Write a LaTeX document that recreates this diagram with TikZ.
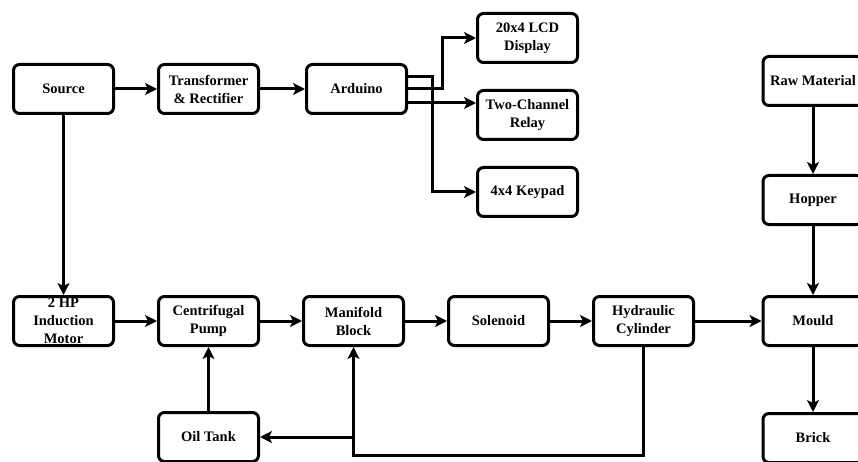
\documentclass[tikz,border=0pt]{standalone}
\usepackage{fontspec}
\setmainfont{Liberation Serif}
\usetikzlibrary{arrows.meta}
\begin{document}
\begin{tikzpicture}[x=1pt,y=-1pt,
  blk/.style={draw=black, line width=3pt, rounded corners=6pt, minimum width=100pt, minimum height=49pt,
    align=center, inner sep=0pt, font=\fontsize{14.5}{18}\selectfont\bfseries},
  arr/.style={line width=3pt, -{Stealth[length=12pt,width=12pt,inset=3pt]}},
  ln/.style={line width=3pt}]
\useasboundingbox (0,0) rectangle (858,462);
\clip (0,0) rectangle (858,462);
\fill[white] (0,0) rectangle (858,462);
% top row
\node[blk] (src) at (63.5,89) {Source};
\node[blk] (trf) at (208.5,89) {Transformer\\\& Rectifier};
\node[blk] (ard) at (356.5,89) {Arduino};
\node[blk] (lcd) at (527.5,38) {20x4 LCD\\Display};
\node[blk] (rly) at (527.5,115) {Two-Channel\\Relay};
\node[blk] (key) at (527.5,192) {4x4 Keypad};
\node[blk] (raw) at (813,81) {Raw Material};
\node[blk] (hop) at (813,200) {Hopper};
% bottom row
\node[blk] (mot) at (63.5,321) {2 HP\\Induction\\Motor};
\node[blk] (pmp) at (208.5,321) {Centrifugal\\Pump};
\node[blk] (man) at (353.5,321) {Manifold\\Block};
\node[blk] (sol) at (498.5,321) {Solenoid};
\node[blk] (hyd) at (643.5,321) {Hydraulic\\Cylinder};
\node[blk] (mld) at (813,321) {Mould};
\node[blk] (oil) at (208.5,437) {Oil Tank};
\node[blk] (brk) at (813,438) {Brick};
% connectors
\draw[arr] (src) -- (trf);
\draw[arr] (trf) -- (ard);
\draw[arr] (src) -- (mot);
\draw[arr] ([yshift=12pt]ard.east) -- ++(24,0) |- (key.west);
\draw[arr] (ard.east) -- ++(34,0) |- (lcd.west);
\draw[arr] ([yshift=-14pt]ard.east) -- ([yshift=-14pt]ard.east -| rly.west);
\draw[arr] (raw) -- (hop);
\draw[arr] (hop) -- (mld);
\draw[arr] (mld) -- (brk);
\draw[arr] (mot) -- (pmp);
\draw[arr] (pmp) -- (man);
\draw[arr] (man) -- (sol);
\draw[arr] (sol) -- (hyd);
\draw[arr] (hyd) -- (mld);
\draw[arr] (oil) -- (pmp);
\draw[arr] (hyd.south) -- ++(0,108) -| (man.south);
\draw[arr] (man.south |- oil.east) -- (oil.east);
\end{tikzpicture}
\end{document}
